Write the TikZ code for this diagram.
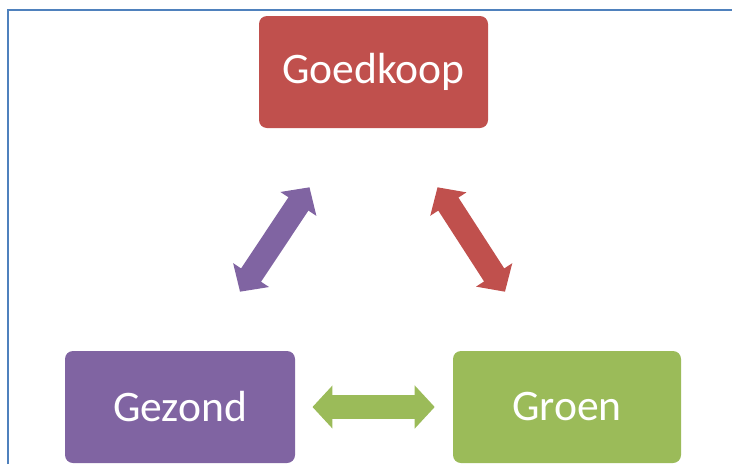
\documentclass[tikz,border=0pt]{standalone}
\usepackage{fontspec}
\setmainfont{Carlito}
\usepackage{xcolor}
\usetikzlibrary{arrows.meta, calc, positioning}

\definecolor{kleurrood}{HTML}{C0504D}
\definecolor{kleurpaars}{HTML}{8064A2}
\definecolor{kleurgroen}{HTML}{9BBB59}
\definecolor{kleurrand}{HTML}{4F81BD}

\tikzset{
    blok/.style={rectangle,fill=#1,text=white,minimum height=2.8cm,rounded corners=0.2cm,font=\fontsize{31}{35}\selectfont},
    pijl/.style={draw=#1,line width=0.6cm,{Triangle[width=1.05cm,length=0.5cm]}-{Triangle[width=1.05cm,length=0.5cm]}}
}

\begin{document}
\begin{tikzpicture}
    \useasboundingbox (0,0) rectangle (18.3,-11.6);

    % Rand
    \draw[kleurrand,line width=0.05cm] (0.2,-11.6) -- (0.2,-0.25) -- (18.3,-0.25);

    % Blokken
    \node[blok=kleurrood,minimum width=5.725cm] (goedkoop) at (9.3375,-1.8) {Goedkoop};
    \node[blok=kleurpaars,minimum width=5.75cm] (gezond) at (4.5,-10.175) {Gezond};
    \node[blok=kleurgroen,minimum width=5.7cm] (groen) at (14.175,-10.175) {Groen};

    % Pijlen
    \draw[pijl=kleurpaars] ($(gezond.north)+(1.5,1.475)$) -- ($(goedkoop.south)+(-1.6,-1.475)$);
    \draw[pijl=kleurrood] ($(goedkoop.south)+(1.6,-1.475)$) -- ($(groen.north)+(-1.55,1.475)$);
    \draw[pijl=kleurgroen] ($(gezond.east)+(0.43,0)$) -- ($(groen.west)+(-0.45,0)$);
\end{tikzpicture}
\end{document}
